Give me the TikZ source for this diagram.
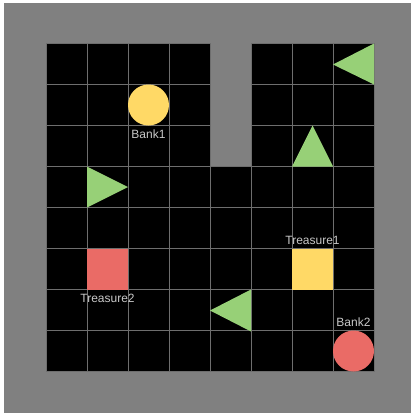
\documentclass[tikz,border=0pt]{standalone}
\usepackage{fontspec}
\setmainfont{Liberation Sans}
\definecolor{bg}{HTML}{808080}
\definecolor{gridc}{HTML}{6E6E6E}
\definecolor{yel}{HTML}{FFD966}
\definecolor{grn}{HTML}{97D077}
\definecolor{rd}{HTML}{EA6B66}
\definecolor{lbl}{HTML}{C8C8C8}
\tikzset{
  cellbox/.style={draw=gridc, line width=1pt, fill=black},
  lab/.style={text=lbl, font=\fontsize{12}{12}\selectfont, inner sep=0pt},
  tri/.style={fill=grn, draw=none},
}
\begin{document}
\begin{tikzpicture}[x=1pt,y=-1pt]
\useasboundingbox (0,0) rectangle (411,418);
\fill[white] (0,0) rectangle (411,418);
\fill[bg] (4,3) rectangle (411,413);
% grid cells
\foreach \c in {0,...,7}{
  \foreach \r in {0,...,7}{
    \pgfmathtruncatemacro{\skip}{(\c==4 && \r<3) ? 1 : 0}
    \ifnum\skip=0
      \draw[cellbox] ({46+41*\c},{43.5+41*\r}) rectangle ++(41,41);
    \fi
  }
}
% shapes
\coordinate (t1a) at (333,64.5);
\fill[tri] (t1a) -- (374,43.5) -- (374,84.5) -- cycle;
\node[circle, fill=yel, minimum size=41pt, inner sep=0pt] (bank1) at (148.5,105) {};
\node[lab, anchor=north] (bank1l) at (148.5,130) {Bank1};
\fill[tri] (312.5,125.5) -- (292,166.5) -- (333,166.5) -- cycle;
\fill[tri] (87,166.5) -- (128,187) -- (87,207.5) -- cycle;
\node[rectangle, fill=yel, minimum size=41pt, inner sep=0pt] (tr1) at (312.5,269) {};
\node[lab, anchor=south] (tr1l) at (312.5,245) {Treasure1};
\node[rectangle, fill=rd, minimum size=41pt, inner sep=0pt] (tr2) at (107.5,269) {};
\node[lab, anchor=north] (tr2l) at (107.5,294) {Treasure2};
\fill[tri] (210,310.5) -- (251,289.5) -- (251,331.5) -- cycle;
\node[circle, fill=rd, minimum size=41pt, inner sep=0pt] (bank2) at (353.5,351) {};
\node[lab, anchor=south] (bank2l) at (353.5,327) {Bank2};
\end{tikzpicture}
\end{document}
